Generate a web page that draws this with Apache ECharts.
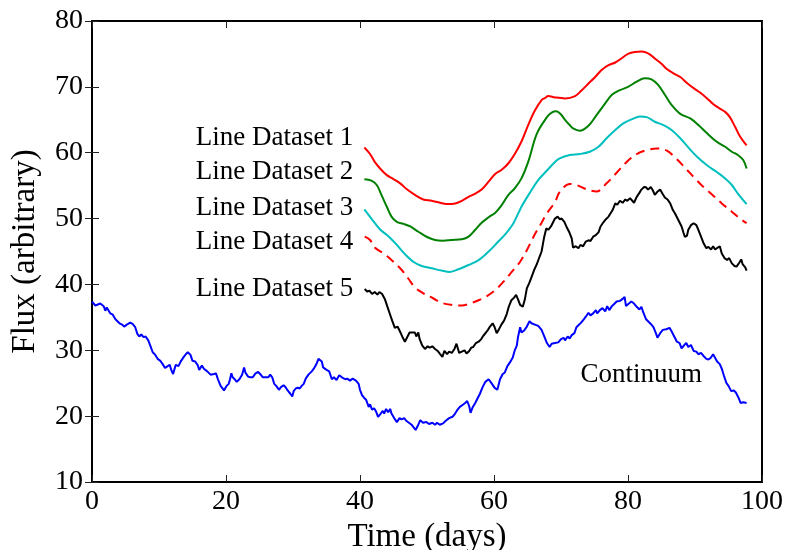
<!DOCTYPE html>
<html>
<head>
<meta charset="utf-8">
<title>Flux vs Time</title>
<script src="https://cdn.jsdelivr.net/npm/echarts@6/dist/echarts.min.js"></script>
<style>
  html, body { margin: 0; padding: 0; background: #ffffff; }
  #chart { width: 789px; height: 550px; }
</style>
</head>
<body>
<div id="chart"></div>
<script>
// ---- data -------------------------------------------------------------
const xTicks = [0, 20, 40, 60, 80, 100];
const yTicks = [10, 20, 30, 40, 50, 60, 70, 80];

const continuum = [
  [0,37.4],[0.25,37.2],[0.5,36.8],[0.75,37.0],[1.24,37.1],[1.74,36.7],[1.99,36.0],[2.2,36.5],[2.74,35.6],[3.1,35.4],
  [3.5,34.7],[3.7,34.5],[4.1,34.1],[4.5,33.9],[4.8,33.6],[5.2,33.9],[5.7,34.2],[6.05,34.0],[6.45,33.5],[6.77,32.5],
  [7.06,32.1],[7.36,32.4],[7.7,32.0],[8.0,32.1],[8.4,31.5],[8.7,30.7],[9.06,29.7],[9.45,29.3],[9.8,28.7],[10.2,28.4],
  [10.55,27.9],[10.9,27.3],[11.3,27.6],[11.6,27.8],[11.8,27.1],[12.1,26.4],[12.3,27.1],[12.5,27.8],[12.9,27.6],[13.3,28.4],
  [13.7,29.0],[14.0,29.4],[14.3,29.7],[14.7,29.3],[15.0,28.4],[15.4,28.3],[15.8,27.7],[16.0,27.0],[16.4,27.7],[16.7,27.2],
  [17.2,26.8],[17.7,26.3],[18.2,26.4],[18.5,26.5],[18.8,25.6],[19.2,24.6],[19.7,23.9],[20.1,24.6],[20.4,24.9],[20.6,25.6],
  [20.8,26.5],[21.0,25.9],[21.3,25.6],[21.6,25.2],[22.0,25.6],[22.4,26.3],[22.7,27.4],[22.9,26.6],[23.3,26.0],[23.6,25.9],
  [24.0,25.9],[24.4,26.5],[24.8,26.7],[25.1,26.4],[25.5,25.9],[25.9,25.9],[26.3,25.9],[26.6,26.3],[26.9,25.9],[27.2,24.9],
  [27.5,24.6],[27.9,24.0],[28.2,24.4],[28.6,24.7],[28.9,24.4],[29.2,23.9],[29.6,23.4],[29.9,23.0],[30.1,23.8],[30.4,24.2],
  [30.7,24.3],[31.0,24.2],[31.3,24.6],[31.6,24.9],[31.9,25.7],[32.3,26.3],[32.8,26.8],[33.1,27.2],[33.5,27.9],[33.8,28.7],
  [34.0,28.9],[34.3,28.3],[34.5,27.4],[34.9,27.1],[35.4,26.8],[35.8,25.6],[36.1,25.9],[36.5,25.5],[36.9,26.2],[37.3,25.9],
  [37.8,25.6],[38.1,25.7],[38.5,25.4],[38.9,25.7],[39.4,25.4],[39.8,24.9],[40.0,24.0],[40.3,23.2],[40.6,22.8],[40.9,22.5],
  [41.3,21.4],[41.5,21.8],[41.8,21.0],[42.1,21.2],[42.4,20.7],[42.7,19.9],[43.1,20.4],[43.4,20.8],[43.6,20.4],[43.9,21.1],
  [44.2,20.6],[44.5,21.1],[44.7,20.4],[45.1,19.7],[45.5,19.1],[45.9,19.7],[46.2,19.5],[46.6,19.7],[46.9,19.3],[47.3,19.0],
  [47.7,18.7],[48.0,18.3],[48.3,17.9],[48.7,18.7],[49.0,19.4],[49.4,19.0],[49.9,19.1],[50.3,18.8],[50.8,19.0],[51.2,18.7],
  [51.5,19.0],[51.9,18.7],[52.4,18.9],[52.8,19.3],[53.3,19.7],[53.8,19.9],[54.2,20.4],[54.5,20.9],[54.9,21.4],[55.3,21.7],
  [55.7,22.0],[56.0,22.3],[56.3,21.5],[56.5,20.5],[56.8,21.3],[57.2,22.0],[57.5,22.6],[57.9,23.4],[58.3,24.4],[58.7,25.2],
  [59.2,25.6],[59.7,24.9],[60.1,24.3],[60.5,24.0],[60.9,25.6],[61.3,26.4],[61.6,26.6],[62.0,27.6],[62.4,28.2],[62.8,28.9],
  [63.1,30.0],[63.4,30.7],[63.6,32.1],[63.9,33.5],[64.1,32.7],[64.5,33.0],[64.9,33.6],[65.3,34.4],[65.6,34.1],[66.1,33.9],
  [66.6,33.7],[67.1,33.1],[67.5,32.1],[67.9,31.1],[68.3,30.5],[68.6,31.0],[69.1,31.1],[69.6,31.2],[70.0,31.7],[70.4,31.9],
  [70.6,31.5],[71.0,32.1],[71.3,31.8],[71.6,32.3],[72.0,32.6],[72.3,33.5],[72.6,33.8],[73.0,34.2],[73.4,34.7],[73.7,35.1],
  [74.1,35.7],[74.4,35.3],[74.8,35.6],[75.2,36.1],[75.4,35.6],[75.8,36.1],[76.2,36.4],[76.6,35.9],[76.9,36.7],[77.2,36.1],
  [77.6,36.7],[77.9,37.0],[78.3,37.4],[78.8,37.5],[79.2,37.8],[79.5,38.1],[79.7,36.7],[80.0,37.0],[80.5,37.4],[80.9,37.1],
  [81.3,36.6],[81.7,36.2],[82.0,36.6],[82.3,35.7],[82.7,34.7],[83.0,34.4],[83.4,34.0],[83.8,33.5],[84.2,32.5],[84.4,31.9],
  [84.8,32.6],[85.2,33.1],[85.7,33.2],[86.2,33.4],[86.5,32.9],[86.9,32.1],[87.3,31.3],[87.7,31.1],[88.0,30.3],[88.4,30.8],
  [88.7,31.1],[89.0,30.5],[89.4,30.8],[89.8,29.9],[90.2,29.8],[90.5,29.4],[90.9,29.6],[91.3,29.1],[91.7,28.7],[92.0,28.6],
  [92.3,28.8],[92.7,29.4],[92.9,29.2],[93.3,28.3],[93.7,27.9],[94.0,27.2],[94.3,26.2],[94.7,25.0],[95.0,24.6],[95.4,23.8],
  [95.8,23.9],[96.1,23.6],[96.5,22.8],[96.8,22.0],[97.2,22.1],[97.7,22.0]
];

const lineDataset1 = [
  [40.65,60.8],[41.5,59.8],[42.2,58.6],[43.0,57.6],[44.0,56.6],[45.0,56.0],[46.0,55.35],[47.0,54.45],[48.2,53.6],
  [49.45,52.9],[50.7,52.7],[51.95,52.4],[53.2,52.2],[54.2,52.3],[55.2,52.7],[56.2,53.3],[57.2,53.8],[58.2,54.45],
  [59.2,55.6],[60.2,56.8],[61.15,57.4],[62.15,58.4],[63.1,59.8],[64.1,61.7],[65.1,64.2],[66.1,66.4],[67.1,68.0],
  [67.6,68.3],[68.1,68.6],[69.1,68.4],[70.6,68.25],[72.1,68.6],[73.1,69.5],[74.1,70.5],[75.1,71.5],[76.1,72.6],
  [77.1,73.3],[78.1,73.7],[79.0,74.3],[80.0,75.0],[81.0,75.3],[82.0,75.35],[83.0,75.1],[84.0,74.3],[85.0,73.5],
  [85.8,72.7],[86.8,72.05],[87.8,71.5],[88.8,70.6],[89.8,69.8],[90.8,69.1],[91.8,68.25],[92.7,67.4],[93.7,66.7],
  [94.5,66.2],[95.2,65.4],[96.0,63.9],[96.7,62.5],[97.7,61.1]
];

const lineDataset2 = [
  [40.65,55.96],[41.7,55.75],[42.5,55.1],[43.2,53.6],[44.0,51.8],[44.7,50.3],[45.5,49.5],[46.5,49.2],[47.5,48.8],
  [48.7,48.0],[50.0,47.2],[51.2,46.75],[52.4,46.65],[53.7,46.75],[55.2,46.85],[56.2,47.25],[57.2,48.3],[58.2,49.4],
  [59.2,50.2],[60.2,50.9],[61.15,52.05],[62.15,53.6],[63.1,54.6],[64.1,56.1],[65.1,58.6],[66.4,62.9],[67.9,65.4],
  [68.6,66.1],[69.3,66.3],[70.0,65.8],[70.6,65.0],[71.3,64.2],[71.8,63.7],[72.8,63.35],[74.1,64.1],[75.3,65.7],
  [76.6,67.5],[77.6,68.8],[78.8,69.5],[80.0,70.0],[81.3,70.8],[82.5,71.3],[83.5,71.15],[84.5,70.3],[85.5,68.8],
  [86.5,67.25],[87.8,65.9],[89.3,65.2],[90.5,64.2],[91.8,62.95],[93.2,61.7],[94.5,60.9],[95.5,60.15],[96.4,59.65],
  [97.2,58.9],[97.7,57.6]
];

const lineDataset3 = [
  [40.65,51.4],[41.7,50.0],[43.0,48.35],[44.2,47.35],[45.5,46.0],[46.7,44.6],[47.95,43.45],[49.2,42.8],[50.7,42.45],
  [52.2,42.1],[53.4,41.9],[54.7,42.3],[56.2,42.95],[57.7,43.7],[59.2,45.0],[60.4,46.25],[61.7,47.65],[62.9,49.3],
  [64.1,51.8],[65.4,54.0],[66.6,55.85],[67.9,57.3],[69.1,58.6],[69.8,59.15],[71.3,59.65],[72.8,59.8],[74.3,60.15],
  [75.6,60.9],[76.8,62.2],[78.1,63.45],[79.3,64.45],[80.6,65.1],[81.8,65.5],[82.8,65.4],[84.0,64.7],[85.3,64.2],
  [86.5,63.45],[87.8,62.2],[89.0,60.8],[90.3,59.4],[91.8,58.1],[93.2,57.1],[94.5,56.1],[95.5,55.1],[96.4,53.8],
  [97.7,52.2]
];

const lineDataset4 = [
  [40.7,47.25],[41.5,46.75],[42.2,45.6],[43.5,44.7],[44.7,43.7],[46.0,42.45],[47.2,40.9],[48.2,39.55],[49.45,38.65],
  [50.9,37.9],[52.2,37.2],[53.7,36.9],[55.2,36.8],[56.4,37.1],[57.7,37.6],[58.9,38.2],[60.2,39.15],[61.4,40.4],
  [62.65,41.9],[63.9,43.45],[64.9,45.2],[65.9,47.25],[66.9,49.0],[67.9,50.8],[69.1,52.5],[69.85,54.1],[71.3,55.25],
  [72.3,55.1],[73.8,54.45],[75.3,54.1],[76.8,55.35],[78.3,56.95],[79.8,58.6],[81.3,59.8],[82.8,60.4],[84.3,60.65],
  [85.8,60.3],[87.3,59.0],[88.8,57.4],[90.0,56.1],[91.2,54.85],[92.5,53.7],[94.0,52.3],[95.5,51.05],[96.7,50.0],
  [97.7,49.3]
];

const lineDataset5 = [
  [40.7,39.3],[41.1,38.9],[41.4,39.05],[41.8,38.55],[42.2,38.85],[42.6,38.45],[42.9,38.85],[43.3,38.55],[43.7,37.8],
  [44.1,36.6],[44.5,35.4],[44.8,34.5],[45.2,33.4],[45.6,33.6],[45.9,33.0],[46.3,32.1],[46.7,31.3],[47.1,32.1],
  [47.4,32.7],[47.8,32.7],[48.2,32.7],[48.4,32.1],[48.7,32.7],[48.9,31.7],[49.3,30.7],[49.7,30.2],[50.1,30.6],
  [50.4,30.4],[50.8,30.6],[51.2,30.2],[51.6,29.9],[51.9,29.5],[52.3,29.0],[52.6,29.9],[53.0,29.4],[53.3,29.8],
  [53.7,29.6],[54.1,30.2],[54.4,31.0],[54.8,29.6],[55.2,29.8],[55.6,30.0],[55.9,29.5],[56.3,29.9],[56.6,30.4],
  [56.9,30.5],[57.3,31.1],[57.7,31.3],[58.1,31.7],[58.4,32.2],[58.8,32.7],[59.1,33.1],[59.4,33.6],[59.8,34.1],
  [60.1,33.5],[60.4,32.6],[60.7,33.1],[61.1,33.9],[61.5,34.5],[61.9,35.5],[62.2,36.6],[62.6,37.6],[63.0,38.0],
  [63.3,38.4],[63.6,37.7],[63.9,36.9],[64.3,36.6],[64.6,37.7],[64.9,39.4],[65.3,40.3],[65.6,41.1],[66.0,42.2],
  [66.4,43.1],[66.8,44.2],[67.1,45.0],[67.5,47.25],[67.8,48.5],[68.1,48.3],[68.5,48.8],[68.8,49.4],[69.1,50.0],
  [69.5,50.3],[69.8,49.9],[70.1,50.0],[70.5,49.5],[70.8,48.8],[71.2,48.0],[71.6,47.0],[71.8,45.6],[72.2,45.8],
  [72.6,45.5],[72.9,46.0],[73.3,45.8],[73.7,46.5],[74.1,46.7],[74.4,46.6],[74.8,47.25],[75.2,47.5],[75.6,47.9],
  [75.9,48.8],[76.3,49.4],[76.7,49.9],[77.1,50.3],[77.4,50.8],[77.7,51.3],[78.1,52.3],[78.4,52.1],[78.8,52.7],
  [79.2,52.4],[79.6,52.9],[79.9,52.7],[80.3,53.1],[80.5,52.8],[80.9,52.4],[81.3,53.3],[81.7,53.9],[82.0,54.4],
  [82.4,54.8],[82.7,54.75],[83.0,54.4],[83.4,54.8],[83.7,54.3],[84.0,53.6],[84.4,54.1],[84.8,54.4],[85.2,53.7],
  [85.5,53.2],[85.9,52.9],[86.3,52.3],[86.7,51.3],[87.0,50.8],[87.4,50.0],[87.7,49.4],[88.0,48.8],[88.3,47.8],
  [88.5,47.2],[88.8,47.4],[89.0,48.3],[89.4,49.0],[89.8,49.3],[90.2,49.0],[90.5,48.3],[90.9,47.25],[91.3,46.2],
  [91.7,45.5],[92.0,45.7],[92.4,45.3],[92.7,45.8],[93.0,45.3],[93.4,45.6],[93.7,45.8],[94.0,44.7],[94.4,44.0],
  [94.8,43.7],[95.1,44.0],[95.5,43.2],[95.9,42.8],[96.2,42.7],[96.6,43.3],[96.9,43.8],[97.1,43.1],[97.5,42.6],
  [97.7,42.1]
];

const seriesNames = ['Line Dataset 1', 'Line Dataset 2', 'Line Dataset 3', 'Line Dataset 4', 'Line Dataset 5'];
const continuumName = 'Continuum';

// ---- presentation -----------------------------------------------------
const FONT = "'Liberation Serif', 'DejaVu Serif', serif";
const lineSets = [lineDataset1, lineDataset2, lineDataset3, lineDataset4, lineDataset5];
const lineStyles = [
  { color: '#ff0000', type: 'solid',  smooth: 0.35 },
  { color: '#008000', type: 'solid',  smooth: 0.35 },
  { color: '#00bfbf', type: 'solid',  smooth: 0.35 },
  { color: '#ff0000', type: [9, 6],   smooth: 0.35 },
  { color: '#000000', type: 'solid',  smooth: false }
];
// text anchors (data units): right edge of each dataset name and its baseline
const nameAnchorX = 39.0;
const nameBaselines = [60.8, 55.7, 50.3, 45.0, 37.9];
const continuumAnchor = [72.9, 24.9];

const xMin = xTicks[0], xMax = xTicks[xTicks.length - 1], xStep = xTicks[1] - xTicks[0];
const yMin = yTicks[0], yMax = yTicks[yTicks.length - 1], yStep = yTicks[1] - yTicks[0];

const tickStyle = { show: true, inside: true, length: 7, lineStyle: { color: '#222', width: 1 } };

function valueAxis(opts) {
  return Object.assign({
    type: 'value',
    splitLine: { show: false },
    axisLine: { show: false },
    axisTick: tickStyle
  }, opts);
}

const chart = echarts.init(document.getElementById('chart'), null, { renderer: 'canvas' });

const series = lineSets.map((data, i) => ({
  name: seriesNames[i],
  type: 'line',
  data: data,
  xAxisIndex: 0,
  yAxisIndex: 0,
  symbol: 'none',
  smooth: lineStyles[i].smooth,
  lineStyle: { color: lineStyles[i].color, width: 2, type: lineStyles[i].type },
  z: 3 + i
}));
series.push({
  name: continuumName,
  type: 'line',
  data: continuum,
  xAxisIndex: 0,
  yAxisIndex: 0,
  symbol: 'none',
  lineStyle: { color: '#0000ff', width: 2 },
  z: 2
});

chart.setOption({
  animation: false,
  backgroundColor: '#ffffff',
  textStyle: { fontFamily: FONT },
  grid: {
    left: 92, right: 27, top: 21, bottom: 68,
    outerBoundsMode: 'none',
    containLabel: false,
    show: true, borderColor: '#000', borderWidth: 2, backgroundColor: 'transparent'
  },
  xAxis: [
    valueAxis({
      position: 'bottom', min: xMin, max: xMax, interval: xStep,
      name: 'Time (days)', nameLocation: 'middle', nameGap: 35,
      nameTextStyle: { fontFamily: FONT, fontSize: 33, color: '#000' },
      axisLabel: { fontFamily: FONT, fontSize: 28, color: '#000', margin: 6 }
    }),
    valueAxis({
      position: 'top', min: xMin, max: xMax, interval: xStep,
      axisLabel: { show: false }
    })
  ],
  yAxis: [
    valueAxis({
      position: 'left', min: yMin, max: yMax, interval: yStep,
      name: 'Flux (arbitrary)', nameLocation: 'middle', nameGap: 50,
      nameTextStyle: { fontFamily: FONT, fontSize: 33, color: '#000' },
      axisLabel: { fontFamily: FONT, fontSize: 28, color: '#000', margin: 9 }
    }),
    valueAxis({
      position: 'right', min: yMin, max: yMax, interval: yStep,
      axisLabel: { show: false }
    })
  ],
  series: series
});

// dataset names placed beside the start of each curve, plus the continuum tag
const LABEL_SIZE = 27;
const toPx = (pt) => chart.convertToPixel({ xAxisIndex: 0, yAxisIndex: 0 }, pt);
const graphics = seriesNames.map((name, i) => {
  const p = toPx([nameAnchorX, nameBaselines[i]]);
  return {
    type: 'text',
    x: p[0],
    y: p[1] - 0.34 * LABEL_SIZE,
    style: {
      text: name, fill: '#000', font: LABEL_SIZE + 'px ' + FONT,
      align: 'right', verticalAlign: 'middle'
    },
    z: 10
  };
});
const cp = toPx(continuumAnchor);
graphics.push({
  type: 'text',
  x: cp[0],
  y: cp[1] - 0.34 * LABEL_SIZE,
  style: {
    text: continuumName, fill: '#000', font: LABEL_SIZE + 'px ' + FONT,
    align: 'left', verticalAlign: 'middle'
  },
  z: 10
});
chart.setOption({ graphic: graphics });
</script>
</body>
</html>
